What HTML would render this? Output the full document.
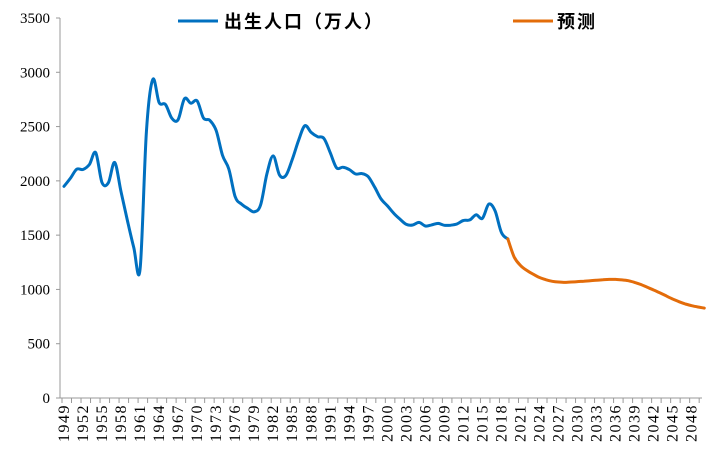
<!DOCTYPE html>
<html><head><meta charset="utf-8"><style>
body{margin:0;background:#fff;width:713px;height:453px;overflow:hidden}
svg{display:block}
</style></head><body>
<svg id="chart" width="713" height="453" xmlns="http://www.w3.org/2000/svg" font-family="Liberation Serif, serif">
<g id="axes"></g>
<g id="series"></g>
<g font-family="Liberation Sans, Noto Sans CJK SC, sans-serif" font-weight="bold" font-size="18">
 <line x1="178" y1="21" x2="218" y2="21" stroke="#0070C0" stroke-width="3"/>
 <text x="224" y="28" letter-spacing="2">出生人口（万人）</text>
 <line x1="513" y1="21" x2="553" y2="21" stroke="#E36C0A" stroke-width="3"/>
 <text x="557" y="28" letter-spacing="2">预测</text>
</g>
</svg>
<script>
const histYears=[];for(let y=1949;y<=2019;y++)histYears.push(y);
const histValues=[1950,2023,2107,2105,2151,2260,1984,1983,2169,1896,1635,1389,1188,2451,2934,2721,2704,2577,2563,2757,2715,2736,2578,2558,2463,2235,2109,1853,1786,1745,1715,1776,2064,2230,2052,2050,2196,2374,2508,2445,2407,2391,2258,2119,2126,2104,2063,2067,2038,1942,1834,1771,1702,1647,1599,1593,1617,1584,1594,1608,1591,1592,1604,1635,1640,1687,1655,1786,1723,1523,1465];
const fcYears=[];for(let y=2019;y<=2050;y++)fcYears.push(y);
const fcValues=[1465,1300,1220,1175,1140,1110,1090,1075,1068,1065,1068,1072,1076,1080,1085,1090,1092,1092,1088,1080,1065,1045,1020,995,968,940,912,887,866,850,838,828];
const yTicks=[0,500,1000,1500,2000,2500,3000,3500];
const xLabels=[];for(let y=1949;y<=2048;y+=3)xLabels.push(y);

const NS='http://www.w3.org/2000/svg';
const x0=64,dx=6.34,yBase=398,yTop=18,yMax=3500;
const X=y=>x0+(y-1949)*dx;
const Y=v=>yBase-(v/yMax)*(yBase-yTop);
function mk(t,a,p){const e=document.createElementNS(NS,t);for(const k in a)e.setAttribute(k,a[k]);p.appendChild(e);return e;}
const axes=document.getElementById('axes');
let ya=mk('line',{x1:60,y1:yTop,x2:60,y2:yBase,stroke:'#999','stroke-width':1},axes);


let xa=mk('line',{x1:60,y1:yBase,x2:702,y2:yBase,stroke:'#999','stroke-width':1},axes);


yTicks.forEach(v=>{
 mk('line',{x1:56,y1:Y(v),x2:60,y2:Y(v),stroke:'#999'},axes);
 const t=mk('text',{x:50,y:Y(v)+5,'text-anchor':'end','font-size':15},axes);
 
 
 t.textContent=v;
});
for(let y=1949;y<=2050;y+=1.5){mk('line',{x1:X(y)-2,y1:yBase,x2:X(y)-2,y2:yBase+5,stroke:'#999'},axes);}
xLabels.forEach(y=>{
 const t=mk('text',{x:0,y:0,'text-anchor':'end','font-size':16,'letter-spacing':1.5,transform:`translate(${X(y)+5},${yBase+6}) rotate(-90)`},axes);
 
 
 t.textContent=y;
});
function path(xs,vs){
 const p=xs.map((y,i)=>[X(y),Y(vs[i])]);
 let d='M'+p[0][0].toFixed(1)+','+p[0][1].toFixed(1);
 for(let i=0;i<p.length-1;i++){
  const a=p[i-1]||p[i],b=p[i],c=p[i+1],e=p[i+2]||c,k=1/6;
  d+=` C${(b[0]+(c[0]-a[0])*k).toFixed(1)},${(b[1]+(c[1]-a[1])*k).toFixed(1)} ${(c[0]-(e[0]-b[0])*k).toFixed(1)},${(c[1]-(e[1]-b[1])*k).toFixed(1)} ${c[0].toFixed(1)},${c[1].toFixed(1)}`;
 }
 return d;
}
const s=document.getElementById('series');
const h=mk('path',{d:path(histYears,histValues),fill:'none',stroke:'#0070C0','stroke-width':3,'stroke-linejoin':'round','stroke-linecap':'round'},s);


const f=mk('path',{d:path(fcYears,fcValues),fill:'none',stroke:'#E36C0A','stroke-width':3,'stroke-linejoin':'round','stroke-linecap':'round'},s);


</script>
</body></html>
